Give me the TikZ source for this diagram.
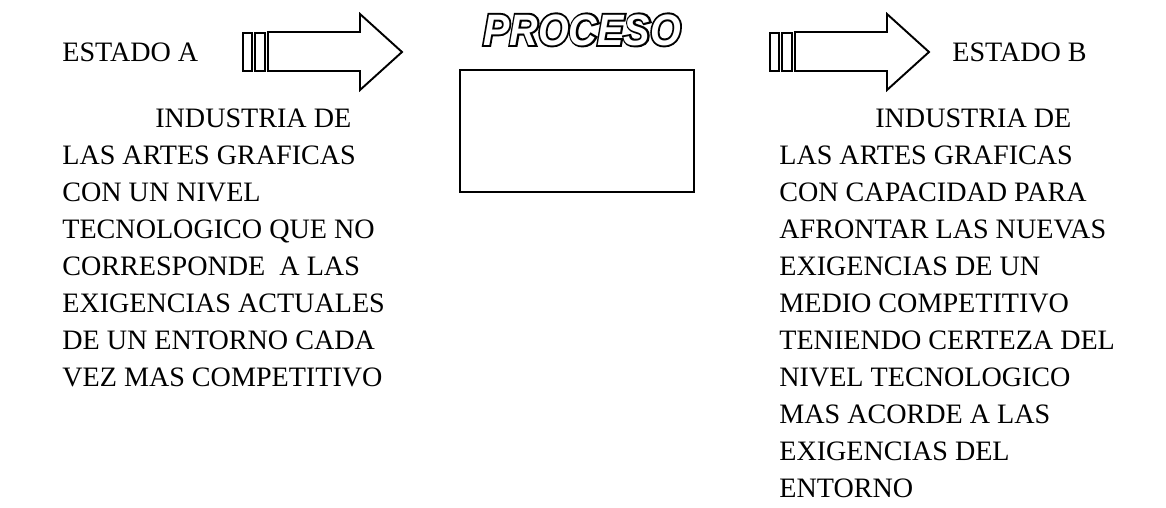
\documentclass[tikz,border=0pt]{standalone}
\usepackage{fontspec}
\setmainfont{Liberation Serif}
\newfontface\procfino{Liberation Sans Bold Italic}
\newfontface\procgrueso{Liberation Sans Bold Italic}[FakeBold=9]
\usetikzlibrary{positioning}

\begin{document}
\begin{tikzpicture}[x=0.02cm,y=-0.02cm]
	\tikzset{
		texto/.style={inner sep=0pt, align=left, font=\fontsize{16}{21.06}\selectfont},
		flecha/.style={draw, line width=1.1pt, line join=miter},
		barra/.style={draw, line width=1pt},
		titulo/.style={inner sep=0pt, anchor=base, xscale=0.9}
	}
	\useasboundingbox (0,0) rectangle (1166,507);
	% estados
	\node[texto, anchor=base west] (estA) at (62,61) {ESTADO A};
	\node[texto, anchor=base west] (estB) at (952,61) {ESTADO B};
	% flechas
	\foreach \dx in {0,527} {
		\draw[barra] ({243+\dx},33) rectangle ({252+\dx},71);
		\draw[barra] ({255+\dx},33) rectangle ({265+\dx},71);
		\draw[flecha] ({268+\dx},32) -- ({360+\dx},32) -- ({360+\dx},14) -- ({402+\dx},52)
			-- ({360+\dx},90) -- ({360+\dx},71) -- ({268+\dx},71) -- cycle;
	}
	% proceso
	\node[titulo, text=black, font=\procgrueso\fontsize{25}{29}\selectfont] (sombra) at (582,45) {PROCESO};
	\node[titulo, text=white, font=\procfino\fontsize{25}{29}\selectfont] (proc) at (582,45) {PROCESO};
	\draw[flecha] (460,70) rectangle (694,192);
	% textos
	\node[texto, anchor=north west] (txtA) at (62,109) {\hspace*{1.86cm}INDUSTRIA DE\\
		LAS ARTES GRAFICAS\\
		CON UN NIVEL\\
		TECNOLOGICO QUE NO\\
		CORRESPONDE \ A LAS\\
		EXIGENCIAS ACTUALES\\
		DE UN ENTORNO CADA\\
		VEZ MAS COMPETITIVO};
	\node[texto, anchor=north west] (txtB) at (779,109) {\hspace*{1.92cm}INDUSTRIA DE\\
		LAS ARTES GRAFICAS\\
		CON CAPACIDAD PARA\\
		AFRONTAR LAS NUEVAS\\
		EXIGENCIAS DE UN\\
		MEDIO COMPETITIVO\\
		TENIENDO CERTEZA DEL\\
		NIVEL TECNOLOGICO\\
		MAS ACORDE A LAS\\
		EXIGENCIAS DEL\\
		ENTORNO};
\end{tikzpicture}
\end{document}
